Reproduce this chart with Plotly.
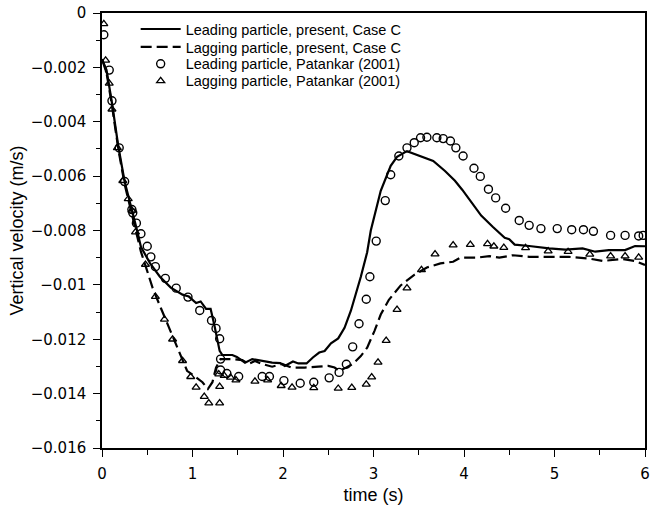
import plotly.graph_objects as go

# Leading particle, present, Case C (solid)
lead_t = [0.00, 0.05, 0.11, 0.18, 0.25, 0.33, 0.38, 0.43, 0.53, 0.64, 0.76, 0.89, 0.96, 1.04, 1.09,
          1.15, 1.20, 1.24, 1.28, 1.30, 1.33, 1.44, 1.49, 1.58, 1.66, 1.73, 1.88, 1.97, 2.02, 2.11,
          2.17, 2.26, 2.33, 2.40, 2.46, 2.53, 2.61, 2.68, 2.75, 2.86, 2.93, 2.97, 3.08, 3.19, 3.26,
          3.37, 3.52, 3.66, 3.79, 3.90, 3.98, 4.08, 4.19, 4.32, 4.45, 4.50, 4.56, 4.72, 4.94, 5.12,
          5.31, 5.45, 5.60, 5.78, 5.89, 6.00]
lead_v = [-0.0017, -0.0021, -0.0033, -0.0049, -0.0062, -0.0072, -0.0079, -0.0086, -0.0092, -0.0097,
          -0.0101, -0.01036, -0.01043, -0.01067, -0.01061, -0.01088, -0.01088, -0.01146, -0.01213,
          -0.01243, -0.01258, -0.01258, -0.01265, -0.01286, -0.01273, -0.01277, -0.01286, -0.01288,
          -0.01298, -0.01282, -0.01289, -0.01289, -0.01267, -0.01249, -0.01243, -0.01215, -0.01197,
          -0.01158, -0.01095, -0.00970, -0.00880, -0.00800, -0.00654, -0.00562, -0.00529, -0.00508,
          -0.00526, -0.00544, -0.00581, -0.00617, -0.00650, -0.00696, -0.00745, -0.00787, -0.00827,
          -0.00832, -0.00852, -0.00857, -0.00866, -0.00870, -0.00866, -0.00878, -0.00872, -0.00872,
          -0.00857, -0.00858]

# Lagging particle, present, Case C (dashed)
lag_t = [0.00, 0.05, 0.11, 0.18, 0.25, 0.33, 0.38, 0.43, 0.49, 0.56, 0.65, 0.74, 0.85, 0.94, 1.04,
         1.11, 1.17, 1.22, 1.26, 1.31, 1.37, 1.44, 1.55, 1.62, 1.69, 1.77, 1.88, 1.99, 2.09, 2.24,
         2.39, 2.50, 2.57, 2.62, 2.70, 2.77, 2.86, 2.93, 3.01, 3.08, 3.17, 3.30, 3.45, 3.59, 3.74,
         3.88, 3.96, 4.14, 4.28, 4.39, 4.54, 4.72, 4.94, 5.16, 5.38, 5.53, 5.75, 5.89, 6.00]
lag_v = [-0.0017, -0.0022, -0.0034, -0.0050, -0.0063, -0.0074, -0.0081, -0.00878, -0.00939, -0.01012,
         -0.01085, -0.01158, -0.01243, -0.01316, -0.0134, -0.01358, -0.01383, -0.01358, -0.01304,
         -0.01273, -0.01273, -0.01273, -0.01277, -0.01291, -0.01280, -0.01291, -0.01301, -0.01291,
         -0.01304, -0.01304, -0.01301, -0.01298, -0.01304, -0.01316, -0.01304, -0.01291, -0.01262,
         -0.01231, -0.01170, -0.01109, -0.01055, -0.01002, -0.00963, -0.00936, -0.00921, -0.00915,
         -0.00900, -0.00900, -0.00894, -0.00900, -0.00891, -0.00897, -0.00897, -0.00897, -0.00903,
         -0.00912, -0.00905, -0.00912, -0.00927]

# Leading particle, Patankar (2001) (circles)
pat_lead_t = [0.02, 0.08, 0.11, 0.19, 0.25, 0.33, 0.34, 0.38, 0.43, 0.50, 0.54, 0.59, 0.70, 0.82,
              0.95, 1.08, 1.21, 1.26, 1.30, 1.31, 1.31, 1.38, 1.51, 1.77, 1.85, 2.01, 2.19, 2.34,
              2.51, 2.62, 2.70, 2.77, 2.84, 2.92, 2.96, 3.03, 3.13, 3.19, 3.28, 3.37, 3.45, 3.52,
              3.59, 3.70, 3.77, 3.85, 3.91, 3.99, 4.11, 4.18, 4.27, 4.35, 4.46, 4.61, 4.72, 4.85,
              5.03, 5.19, 5.32, 5.43, 5.62, 5.78, 5.93, 5.98]
pat_lead_v = [-0.0008, -0.0021, -0.00323, -0.00496, -0.0062, -0.00723, -0.00735, -0.00773, -0.00812,
              -0.00858, -0.00897, -0.00933, -0.00976, -0.01012, -0.01045, -0.01094, -0.01131,
              -0.01160, -0.01198, -0.01273, -0.01313, -0.01326, -0.01337, -0.01337, -0.01337,
              -0.01352, -0.01362, -0.01358, -0.01342, -0.01322, -0.01292, -0.01228, -0.01143,
              -0.01053, -0.00970, -0.00839, -0.00690, -0.00595, -0.00526, -0.00496, -0.00477,
              -0.00459, -0.00457, -0.00459, -0.00462, -0.00471, -0.00496, -0.00526, -0.00571,
              -0.00601, -0.00648, -0.00680, -0.00718, -0.00763, -0.00781, -0.00793, -0.00793,
              -0.00797, -0.00797, -0.00803, -0.00818, -0.00818, -0.00820, -0.00818]

# Lagging particle, Patankar (2001) (triangles)
pat_lag_t = [0.02, 0.04, 0.08, 0.11, 0.17, 0.23, 0.29, 0.33, 0.37, 0.48, 0.59, 0.69, 0.78, 0.89,
             0.98, 1.04, 1.13, 1.18, 1.30, 1.30, 1.29, 1.35, 1.42, 1.48, 1.69, 1.83, 1.98, 2.10,
             2.34, 2.61, 2.76, 2.92, 2.98, 3.05, 3.14, 3.26, 3.37, 3.53, 3.68, 3.88, 4.07, 4.26,
             4.33, 4.44, 4.68, 4.93, 5.15, 5.39, 5.62, 5.78, 5.93]
pat_lag_v = [-0.0004, -0.00174, -0.00259, -0.00354, -0.00496, -0.00617, -0.00684, -0.00726, -0.00806,
             -0.00925, -0.01043, -0.01127, -0.01200, -0.01279, -0.01338, -0.01377, -0.01411,
             -0.01435, -0.01435, -0.01374, -0.01328, -0.01334, -0.01340, -0.01350, -0.01355,
             -0.01350, -0.01371, -0.01377, -0.01379, -0.01381, -0.01378, -0.01366, -0.01339,
             -0.01285, -0.01205, -0.01091, -0.01012, -0.00945, -0.00887, -0.00854, -0.00852,
             -0.00849, -0.00858, -0.00863, -0.00864, -0.00876, -0.00878, -0.00888, -0.00894,
             -0.00894, -0.00899]

x_ticks = [0, 1, 2, 3, 4, 5, 6]
y_ticks = [0, -0.002, -0.004, -0.006, -0.008, -0.01, -0.012, -0.014, -0.016]
y_ticktext = ["0", "\u22120.002", "\u22120.004", "\u22120.006", "\u22120.008", "\u22120.01",
              "\u22120.012", "\u22120.014", "\u22120.016"]

fig = go.Figure()
fig.add_trace(go.Scatter(x=lead_t, y=lead_v, mode="lines", name="Leading particle, present, Case C",
                         line=dict(color="black", width=2.2), legend="legend"))
fig.add_trace(go.Scatter(x=lag_t, y=lag_v, mode="lines", name="Lagging particle, present, Case C",
                         line=dict(color="black", width=2.2, dash="11px,5px"), legend="legend2"))
fig.add_trace(go.Scatter(x=pat_lead_t, y=pat_lead_v, mode="markers", name="Leading particle, Patankar (2001)",
                         marker=dict(symbol="circle-open", size=8, color="black", line=dict(width=1.4, color="black")),
                         legend="legend3"))
fig.add_trace(go.Scatter(x=pat_lag_t, y=pat_lag_v, mode="markers", name="Lagging particle, Patankar (2001)",
                         marker=dict(symbol="triangle-up-open", size=7, color="black", line=dict(width=1.3, color="black")),
                         legend="legend4"))

axis_common = dict(showgrid=False, zeroline=False, showline=True, linecolor="black", linewidth=1.5,
                   mirror=True, ticks="outside", ticklen=7, tickwidth=1.3, tickcolor="black",
                   tickfont=dict(family="DejaVu Sans", size=15, color="black"))

fig.update_xaxes(range=[0, 6], tickvals=x_ticks, ticktext=[str(v) for v in x_ticks],
                 ticklabelstandoff=4,
                 title=dict(text="time (s)", font=dict(family="Liberation Sans, Arial", size=18, color="black"), standoff=7),
                 minor=dict(dtick=0.5, ticks="outside", ticklen=5, tickwidth=1.3, tickcolor="black"),
                 **axis_common)
fig.update_yaxes(range=[-0.016, 0], tickvals=y_ticks, ticktext=y_ticktext,
                 ticklabelstandoff=4,
                 title=dict(text="Vertical velocity (m/s)", font=dict(family="Liberation Sans, Arial", size=18, color="black"), standoff=2),
                 minor=dict(dtick=0.001, ticks="outside", ticklen=4, tickwidth=1.3, tickcolor="black"),
                 **axis_common)

leg_font = dict(family="Liberation Sans, Arial", size=14.5, color="black")
leg_common = dict(x=0.062, xanchor="left", yanchor="middle", bgcolor="rgba(0,0,0,0)",
                  font=leg_font, itemwidth=40)

fig.update_layout(
    width=654, height=510,
    margin=dict(l=102, r=4, t=9, b=62),
    paper_bgcolor="white", plot_bgcolor="white",
    showlegend=True,
    legend=dict(y=0.963, **leg_common),
    legend2=dict(y=0.922, **leg_common),
    legend3=dict(y=0.883, **leg_common),
    legend4=dict(y=0.844, **leg_common),
)

fig.write_html("out.html")
